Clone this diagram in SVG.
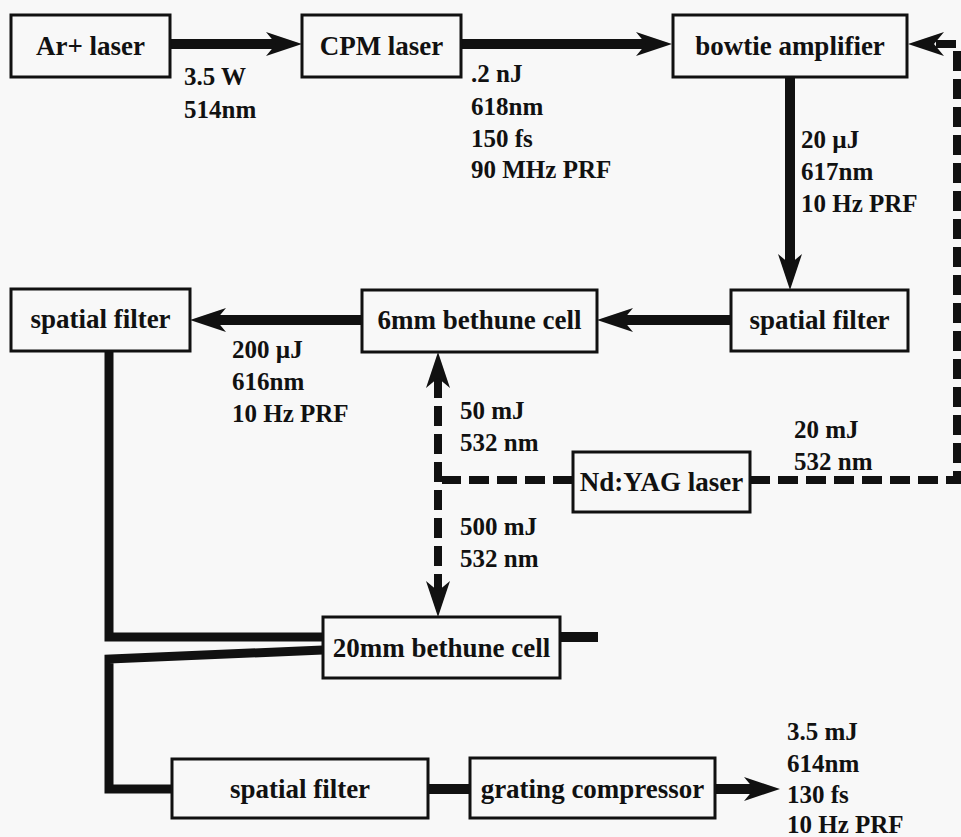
<svg xmlns="http://www.w3.org/2000/svg" width="961" height="837" viewBox="0 0 961 837" font-family="Liberation Serif, DejaVu Serif, serif" font-weight="bold">
<style>
.box{fill:#f8f8f8;stroke:#111;stroke-width:3}
.lbl{font-size:27px;fill:#111;text-anchor:middle}
.dat{font-size:25px;fill:#111}
.beam{fill:none;stroke:#111;stroke-width:10}
.thin{fill:none;stroke:#111;stroke-width:9;stroke-linejoin:miter}
.dash{fill:none;stroke:#111;stroke-width:8;stroke-dasharray:20 8}
</style>
<defs>
<marker id="ah" markerUnits="userSpaceOnUse" viewBox="-12 -14 40 28" markerWidth="40" markerHeight="28" refX="0" refY="0" orient="auto-start-reverse" overflow="visible">
<path d="M26,0 L-10,-12 L0,0 L-10,12 Z" fill="#111"/>
</marker>
</defs>
<rect width="961" height="837" fill="#f8f8f8"/>
<g id="connectors">
<path class="beam" d="M170,44 L276,44" marker-end="url(#ah)"/>
<path class="beam" d="M461,44 L646,44" marker-end="url(#ah)"/>
<path class="beam" d="M790,77 L790,264" marker-end="url(#ah)"/>
<path class="beam" d="M731,320 L623,320" marker-end="url(#ah)"/>
<path class="beam" d="M362,320 L216,320" marker-end="url(#ah)"/>
<path class="beam" d="M715,789 L754,789" marker-end="url(#ah)"/>
<path class="beam" d="M428,789 L470,789"/>
<path class="beam" d="M560,637 L598,637"/>
<path class="thin" d="M109,351 L109,637 L323,637"/>
<path class="thin" d="M323,650 L109,659 L109,789 L172,789"/>
<path class="dash" d="M750,480 L957,480 L957,44 L934,44" marker-end="url(#ah)"/>
<path class="dash" d="M573,480 L442,480"/>
<path class="dash" d="M438,378 L438,591" marker-start="url(#ah)" marker-end="url(#ah)"/>
</g>
<g id="ar-laser"><rect class="box" x="11" y="15" width="159" height="62"/><text class="lbl" x="90.5" y="55">Ar+ laser</text></g>
<g id="cpm-laser"><rect class="box" x="302" y="15" width="159" height="62"/><text class="lbl" x="381.5" y="55">CPM laser</text></g>
<g id="bowtie"><rect class="box" x="673" y="15" width="234" height="62"/><text class="lbl" x="790" y="55">bowtie amplifier</text></g>
<g id="sf-right"><rect class="box" x="731" y="290" width="177" height="61"/><text class="lbl" x="819.5" y="329">spatial filter</text></g>
<g id="bethune6"><rect class="box" x="362" y="290" width="235" height="62"/><text class="lbl" x="479.5" y="329">6mm bethune cell</text></g>
<g id="sf-left"><rect class="box" x="11" y="289" width="179" height="62"/><text class="lbl" x="100.5" y="328">spatial filter</text></g>
<g id="ndyag"><rect class="box" x="573" y="452" width="177" height="60"/><text class="lbl" x="661.5" y="491">Nd:YAG laser</text></g>
<g id="bethune20"><rect class="box" x="323" y="617" width="237" height="61"/><text class="lbl" x="441.5" y="657">20mm bethune cell</text></g>
<g id="sf-bottom"><rect class="box" x="172" y="759" width="256" height="59"/><text class="lbl" x="300" y="798">spatial filter</text></g>
<g id="grating"><rect class="box" x="470" y="758" width="245" height="60"/><text class="lbl" x="592.5" y="798">grating compressor</text></g>
<g id="labels">
<text class="dat" x="184" y="85">3.5 W</text>
<text class="dat" x="184" y="118">514nm</text>
<text class="dat" x="471" y="82">.2 nJ</text>
<text class="dat" x="471" y="115">618nm</text>
<text class="dat" x="471" y="147">150 fs</text>
<text class="dat" x="471" y="178">90 MHz PRF</text>
<text class="dat" x="801" y="148">20 µJ</text>
<text class="dat" x="801" y="180">617nm</text>
<text class="dat" x="801" y="212">10 Hz PRF</text>
<text class="dat" x="232" y="358">200 µJ</text>
<text class="dat" x="232" y="390">616nm</text>
<text class="dat" x="232" y="422">10 Hz PRF</text>
<text class="dat" x="460" y="419">50 mJ</text>
<text class="dat" x="460" y="451">532 nm</text>
<text class="dat" x="794" y="438">20 mJ</text>
<text class="dat" x="794" y="470">532 nm</text>
<text class="dat" x="460" y="535">500 mJ</text>
<text class="dat" x="460" y="567">532 nm</text>
<text class="dat" x="787" y="740">3.5 mJ</text>
<text class="dat" x="787" y="772">614nm</text>
<text class="dat" x="787" y="803">130 fs</text>
<text class="dat" x="787" y="833">10 Hz PRF</text>
</g>
</svg>
